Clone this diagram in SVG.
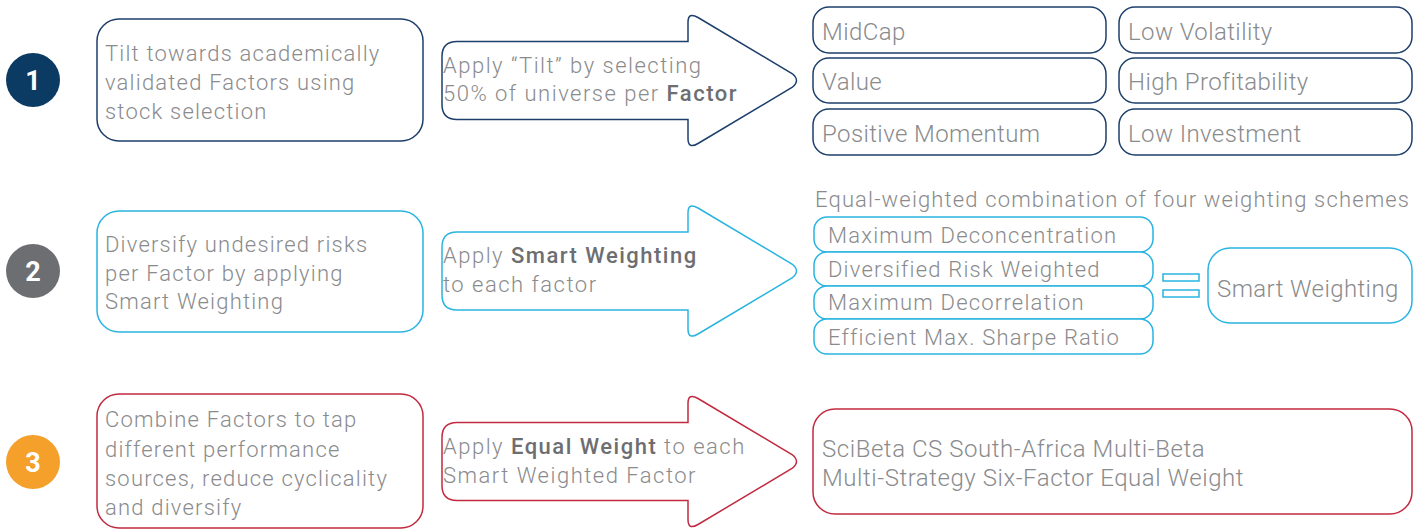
<svg xmlns="http://www.w3.org/2000/svg" width="1428" height="529" viewBox="0 0 1428 529">
<style>
.t{font-family:Roboto,"Liberation Sans",sans-serif;font-size:22px;font-weight:300;fill:#8a8b8d;letter-spacing:1.2px}
.m{font-size:24px;letter-spacing:0.4px}
.r{letter-spacing:0.55px}
.h{letter-spacing:1.15px}
.a{letter-spacing:1.5px}
.b{font-weight:500;fill:#6d6e71}
.num{font-family:Roboto,"Liberation Sans",sans-serif;font-size:27px;font-weight:bold;fill:#fff;text-anchor:middle}
.box{fill:#fff;stroke-width:1.5}
.navy{stroke:#1c3f6b}
.cyan{stroke:#2ab4e0}
.red{stroke:#c12a40}
</style>
<defs>
<path id="arrow" d="M457,-39 H688 V-58 Q688,-69 698,-63 L792,-7 Q801,0 792,7 L698,63 Q688,69 688,58 V39 H457 Q442,39 442,24 V-24 Q442,-39 457,-39 Z"/>
</defs>
<rect width="1428" height="529" fill="#fff"/>

<g id="step1">
<circle cx="33" cy="80" r="27" fill="#0b3a63"/>
<text class="num" x="33" y="90">1</text>
</g>
<g id="step2">
<circle cx="33" cy="271" r="27" fill="#6d6e71"/>
<text class="num" x="33" y="281">2</text>
</g>
<g id="step3">
<circle cx="33" cy="462" r="27" fill="#f5a02a"/>
<text class="num" x="33" y="472">3</text>
</g>

<g id="desc1">
<rect class="box navy" x="97" y="19" width="326" height="122" rx="22"/>
<text class="t" x="105" y="61">Tilt towards academically</text>
<text class="t" x="105" y="90">validated Factors using</text>
<text class="t" x="105" y="119">stock selection</text>
</g>
<g id="desc2">
<rect class="box cyan" x="97" y="211" width="326" height="121" rx="22"/>
<text class="t" x="105" y="252">Diversify undesired risks</text>
<text class="t" x="105" y="281">per Factor by applying</text>
<text class="t" x="105" y="309">Smart Weighting</text>
</g>
<g id="desc3">
<rect class="box red" x="97" y="394" width="326" height="134" rx="22"/>
<text class="t" x="105" y="427">Combine Factors to tap</text>
<text class="t" x="105" y="457">different performance</text>
<text class="t" x="105" y="486">sources, reduce cyclicality</text>
<text class="t" x="105" y="515">and diversify</text>
</g>

<g id="arrow1">
<use href="#arrow" transform="translate(0,80.5)" class="box navy"/>
<text class="t a" x="443" y="73">Apply “Tilt” by selecting</text>
<text class="t a" x="443" y="101">50% of universe per <tspan class="b">Factor</tspan></text>
</g>
<g id="arrow2">
<use href="#arrow" transform="translate(0,271)" class="box cyan"/>
<text class="t a" x="443" y="263">Apply <tspan class="b">Smart Weighting</tspan></text>
<text class="t a" x="443" y="292">to each factor</text>
</g>
<g id="arrow3">
<use href="#arrow" transform="translate(0,461.5)" class="box red"/>
<text class="t a" x="443" y="454">Apply <tspan class="b">Equal Weight</tspan> to each</text>
<text class="t a" x="443" y="483">Smart Weighted Factor</text>
</g>

<g id="f-midcap"><rect class="box navy" x="813" y="7" width="293" height="46" rx="16"/><text class="t m" x="822" y="40">MidCap</text></g>
<g id="f-lowvol"><rect class="box navy" x="1119" y="7" width="293" height="46" rx="16"/><text class="t m" x="1128" y="40">Low Volatility</text></g>
<g id="f-value"><rect class="box navy" x="813" y="58" width="293" height="45" rx="16"/><text class="t m" x="822" y="90">Value</text></g>
<g id="f-highprof"><rect class="box navy" x="1119" y="58" width="293" height="45" rx="16"/><text class="t m" x="1128" y="90">High Profitability</text></g>
<g id="f-posmom"><rect class="box navy" x="813" y="109" width="293" height="46" rx="16"/><text class="t m" x="822" y="142">Positive Momentum</text></g>
<g id="f-lowinv"><rect class="box navy" x="1119" y="109" width="293" height="46" rx="16"/><text class="t m" x="1128" y="142">Low Investment</text></g>

<text id="sw-header" class="t h" x="815" y="207">Equal-weighted combination of four weighting schemes</text>
<g id="sw-maxdecon"><rect class="box cyan" x="814" y="217" width="339" height="35" rx="13"/><text class="t" x="828" y="243">Maximum Deconcentration</text></g>
<g id="sw-drw"><rect class="box cyan" x="814" y="252" width="339" height="34" rx="13"/><text class="t" x="828" y="277">Diversified Risk Weighted</text></g>
<g id="sw-maxdecor"><rect class="box cyan" x="814" y="286" width="339" height="33" rx="13"/><text class="t" x="828" y="310">Maximum Decorrelation</text></g>
<g id="sw-msr"><rect class="box cyan" x="814" y="319" width="339" height="35" rx="13"/><text class="t" x="828" y="345">Efficient Max. Sharpe Ratio</text></g>

<g id="equals">
<rect class="box cyan" x="1163" y="274" width="36" height="7"/>
<rect class="box cyan" x="1163" y="290" width="36" height="7"/>
</g>
<g id="smart-weighting">
<rect class="box cyan" x="1208" y="248" width="204" height="75" rx="22"/>
<text class="t m" x="1217" y="297">Smart Weighting</text>
</g>

<g id="result">
<rect class="box red" x="813" y="409" width="599" height="105" rx="22"/>
<text class="t m r" x="822" y="457">SciBeta CS South-Africa Multi-Beta</text>
<text class="t m r" x="822" y="486">Multi-Strategy Six-Factor Equal Weight</text>
</g>
</svg>
